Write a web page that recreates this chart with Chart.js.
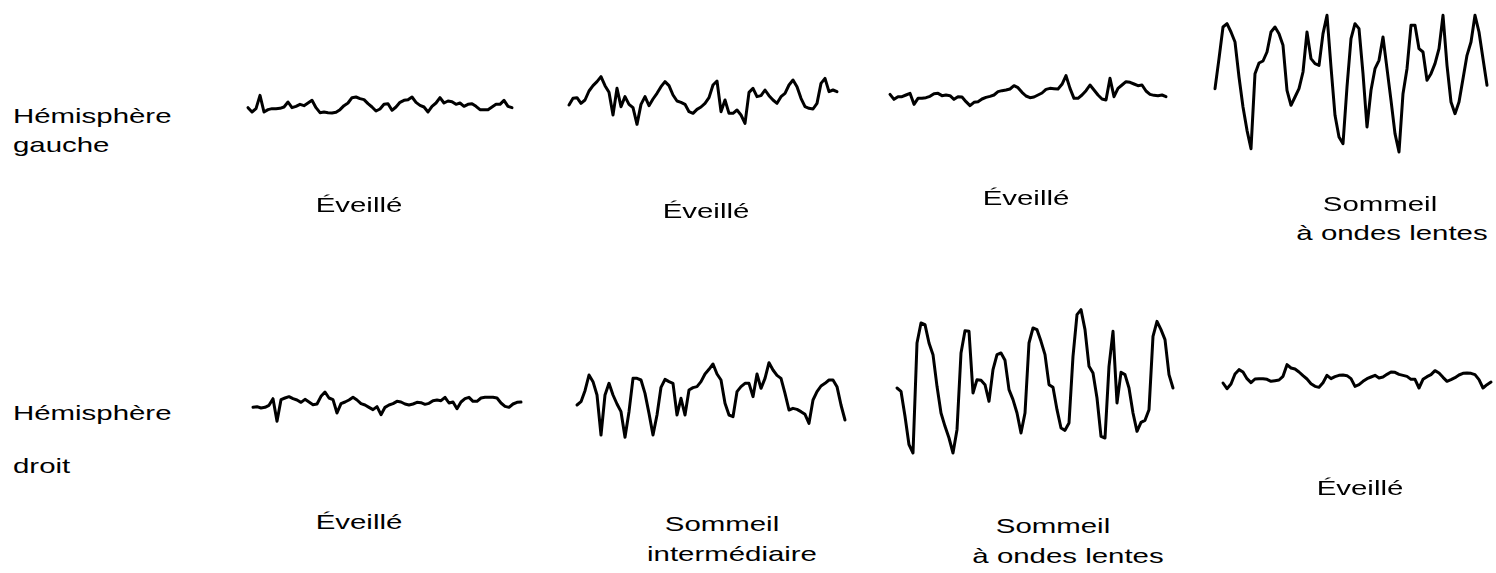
<!DOCTYPE html>
<html lang="fr">
<head>
<meta charset="utf-8">
<title>EEG des deux hémisphères</title>
<script src="https://cdn.jsdelivr.net/npm/chart.js@4/dist/chart.umd.min.js"></script>
<style>
  html, body { margin: 0; padding: 0; background: #fff; }
  #board { position: relative; width: 1496px; height: 573px; overflow: hidden; background: #fff; }
  #board canvas { position: absolute; }
  .lbl {
    position: absolute;
    font-family: "Liberation Sans", Arial, sans-serif;
    font-size: 21px;
    line-height: 21px;
    color: #000;
    white-space: pre;
  }
  .lbl.c { transform: translateX(-50%) scaleX(1.4); transform-origin: center top; }
  .lbl.l { transform: scaleX(1.4); transform-origin: left top; }
</style>
</head>
<body>
<div id="board"></div>
<script>
// EEG amplitudes (arbitrary units, positive = up), one sample per time step.
// Hémisphère gauche
const gaucheEveilleA = [-2, -15, -5, 35, -15, -8, -5, -5, -4, 0, 15, -2, 2, 8, 4, 12, 20, -2, -17, -15,
  -17, -18, -16, -8, 4, 12, 28, 30, 25, 22, 10, 0, -12, -6, 8, 10, -10, 0, 14, 20,
  22, 30, 14, 5, 0, -15, 2, 12, 28, 12, 18, 16, 8, 12, 2, 8, 10, 2, -8, -8,
  -8, 0, 8, 8, 20, 2, -2];
const gaucheEveilleB = [-15, 5, 7, -10, 0, 27, 43, 55, 70, 43, 23, -45, 35, -20, 10, -13, -23, -73, -13, 10,
  -17, 3, 20, 40, 55, 43, 15, -3, -7, -13, -35, -40, -28, -21, -10, 7, 45, 57, -35, 0,
  -40, -40, -30, -45, -70, 23, 35, 10, 13, 30, 13, 0, -10, 10, 20, 45, 60, 40, 5, -20,
  -25, -27, -10, 50, 65, 25, 30, 25];
const gaucheEveilleC = [2, -13, -5, -5, 0, 5, -28, -10, -10, -8, -4, 4, 5, -2, 0, -2, -13, -5, -6, -20,
  -32, -22, -20, -12, -7, -4, 0, 10, 13, 15, 18, 28, 22, 8, -3, -8, -6, 0, 6, 17,
  20, 19, 18, 32, 58, 20, -10, -10, 0, 13, 30, 15, 0, -12, -15, 50, -5, 20, 30, 40,
  38, 33, 28, 30, 12, 2, -1, -2, 0, -5];
const gaucheOndesLentes = [-20, 70, 165, 175, 150, 120, 15, -75, -145, -200, 25, 57, 63, 90, 150, 165, 145, 110, -25, -70,
  -45, -20, 30, 150, 70, 55, 50, 145, 200, 45, -100, -165, -185, -15, 130, 175, 160, 25, -135, -25,
  40, 65, 135, 40, -55, -155, -210, -35, 40, 170, 170, 100, 90, 5, 25, 55, 100, 200, 50, -60,
  -95, -60, 10, 80, 120, 200, 150, 70, -10];
// Hémisphère droit
const droitEveilleA = [-13, -11, -15, -13, -7, 13, -55, 10, 15, 19, 13, 9, 2, 11, 3, -5, -3, 20, 33, 15,
  10, -30, -2, 3, 9, 17, 9, -2, -6, -13, -20, -11, -35, -13, -6, -2, 5, 3, -3, -6,
  -3, 2, 1, -4, -1, 7, 9, 7, 17, 0, 3, -17, 3, 13, 17, 5, 5, 15, 17, 17,
  17, 15, 0, -10, -13, -3, 2, 3];
const droitIntermediaire = [-15, -5, 28, 75, 55, 15, -105, 15, 50, 15, -12, -35, -112, -35, 65, 65, 60, 20, -40, -105,
  -45, 38, 62, 55, 50, -45, 5, -45, 30, 37, 40, 55, 78, 92, 108, 78, 60, -10, -45, -50,
  25, 40, 50, 50, 10, 78, 35, 65, 112, 90, 74, 65, 20, -30, -25, -28, -35, -43, -70, 0,
  25, 42, 50, 60, 60, 40, -15, -60];
const droitOndesLentes = [0, -10, -85, -170, -195, 135, 195, 190, 135, 100, 5, -75, -115, -150, -195, -125, 105, 172, 170, -15,
  25, 23, 10, -40, 55, 100, 105, 83, -5, -35, -75, -135, -75, 135, 180, 175, 140, 100, 10, 2,
  -65, -120, -127, -105, 95, 220, 235, 175, 65, 45, -30, -145, -150, 65, 170, -45, 47, 40, 0, -75,
  -130, -103, -97, -65, 155, 200, 175, 145, 40, 0];
const droitEveilleB = [-15, -32, -18, 12, 25, 18, -2, -14, -3, -2, -2, -4, -10, -8, -6, 5, 40, 30, 27, 18,
  7, -3, -17, -25, -28, -14, 8, -2, 4, 8, 9, 7, -2, -25, -20, -10, -2, 3, 8, 0,
  3, 11, 18, 17, 11, 8, 5, -4, -4, -30, -4, 4, 10, 22, 15, 2, -10, -5, 1, 9,
  14, 15, 14, 10, -5, -30, -20, -12];

// Trace placement on the board: left edge and baseline (px)
const traces = [
  { data: gaucheEveilleA,     x: 248, y: 107 },
  { data: gaucheEveilleB,     x: 569, y: 100 },
  { data: gaucheEveilleC,     x: 890, y: 95 },
  { data: gaucheOndesLentes,  x: 1215, y: 82 },
  { data: droitEveilleA,      x: 253, y: 403 },
  { data: droitIntermediaire, x: 577, y: 400 },
  { data: droitOndesLentes,   x: 897, y: 388 },
  { data: droitEveilleB,      x: 1223, y: 378 }
];

// Captions: text, anchor x, baseline y, alignment
const captions = [
  { t: "Hémisphère", x: 13, y: 123, a: "l" },
  { t: "gauche", x: 13, y: 152, a: "l" },
  { t: "Éveillé", x: 359, y: 212, a: "c" },
  { t: "Éveillé", x: 706, y: 218, a: "c" },
  { t: "Éveillé", x: 1026, y: 205, a: "c" },
  { t: "Sommeil", x: 1380, y: 211, a: "c" },
  { t: "à ondes lentes", x: 1392, y: 240, a: "c" },
  { t: "Hémisphère", x: 13, y: 420, a: "l" },
  { t: "droit", x: 13, y: 473, a: "l" },
  { t: "Éveillé", x: 359, y: 529, a: "c" },
  { t: "Sommeil", x: 722, y: 531, a: "c" },
  { t: "intermédiaire", x: 732, y: 561, a: "c" },
  { t: "Sommeil", x: 1053, y: 533, a: "c" },
  { t: "à ondes lentes", x: 1068, y: 563, a: "c" },
  { t: "Éveillé", x: 1360, y: 495, a: "c" }
];

const board = document.getElementById("board");
const STEP = 4;         // px between samples
const UNITS_PER_PX = 3; // amplitude units per pixel
const H = 200;          // canvas height
const PAD = 4;

traces.forEach(tr => {
  const n = tr.data.length;
  const w = (n - 1) * STEP + 2 * PAD;
  const cv = document.createElement("canvas");
  cv.width = w; cv.height = H;
  cv.style.left = (tr.x - PAD) + "px";
  cv.style.top = (tr.y - H / 2) + "px";
  cv.style.width = w + "px"; cv.style.height = H + "px";
  board.appendChild(cv);
  const half = (H / 2) * UNITS_PER_PX;
  new Chart(cv, {
    type: "line",
    data: {
      datasets: [{
        data: tr.data.map((v, i) => ({ x: i, y: v })),
        borderColor: "#000",
        borderWidth: 3,
        pointRadius: 0,
        tension: 0,
        borderJoinStyle: "round",
        borderCapStyle: "round",
        clip: false
      }]
    },
    options: {
      responsive: false,
      animation: false,
      devicePixelRatio: 1,
      layout: { padding: { left: PAD, right: PAD, top: 0, bottom: 0 } },
      plugins: { legend: { display: false }, tooltip: { enabled: false } },
      events: [],
      scales: {
        x: { type: "linear", display: false, min: 0, max: n - 1 },
        y: { type: "linear", display: false, min: -half, max: half }
      }
    }
  });
});

captions.forEach(c => {
  const d = document.createElement("div");
  d.className = "lbl " + c.a;
  d.textContent = c.t;
  d.style.left = c.x + "px";
  d.style.top = (c.y - 17.8) + "px";
  board.appendChild(d);
});
</script>
</body>
</html>
